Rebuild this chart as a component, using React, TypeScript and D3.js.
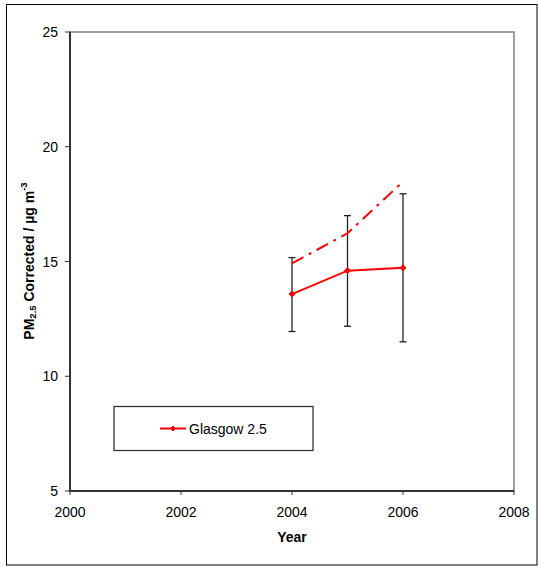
import React from "react";
import * as d3 from "d3";

const years = [2004, 2005, 2006];
const glasgowMean = [13.58, 14.6, 14.73];
const errUpper = [15.17, 17.0, 17.95];
const errLower = [11.95, 12.18, 11.5];
const trendYears = [2004, 2005, 2006];
const trendValues = [14.92, 16.23, 18.48];
const xTicks = [2000, 2002, 2004, 2006, 2008];
const yTicks = [5, 10, 15, 20, 25];
const seriesName = "Glasgow 2.5";

const FONT = "'Liberation Sans', Arial, sans-serif";

export default function App() {
  const W = 539, H = 567;
  const left = 70, right = 514, top = 32, bottom = 491;
  const x = d3.scaleLinear().domain([2000, 2008]).range([left, right]);
  const y = d3.scaleLinear().domain([5, 25]).range([bottom, top]);

  const solid = d3.line<number>().x((_, i) => x(years[i])).y((d) => y(d));
  const dashed = d3.line<number>().x((_, i) => x(trendYears[i])).y((d) => y(d));

  const diamond = (cx: number, cy: number, r = 3) =>
    `M${cx},${cy - r}L${cx + r},${cy}L${cx},${cy + r}L${cx - r},${cy}Z`;

  return (
    <svg width={W} height={H} style={{ position: "absolute", left: 0, top: 0 }} fontFamily={FONT}>
      <rect x={0} y={0} width={W} height={H} fill="#fff" />
      <rect x={6.5} y={4.5} width={530.5} height={560.5} fill="none" stroke="#000" strokeWidth={1} />

      {/* plot frame */}
      <rect x={left} y={top} width={right - left} height={bottom - top} fill="none" stroke="#808080" strokeWidth={1.5} />
      <line x1={left} x2={left} y1={top} y2={bottom} stroke="#333" strokeWidth={2} />
      <line x1={left} x2={right} y1={bottom} y2={bottom} stroke="#333" strokeWidth={2} />

      {/* y ticks */}
      {yTicks.map((t) => (
        <g key={"y" + t}>
          <line x1={left - 5} x2={left} y1={y(t)} y2={y(t)} stroke="#333" strokeWidth={1} />
          <text x={58} y={y(t) + 5} textAnchor="end" fontSize={14} fill="#000">{t}</text>
        </g>
      ))}
      {/* x ticks */}
      {xTicks.map((t) => (
        <g key={"x" + t}>
          <line x1={x(t)} x2={x(t)} y1={bottom} y2={bottom + 4} stroke="#333" strokeWidth={1} />
          <text x={x(t)} y={517} textAnchor="middle" fontSize={14} fill="#000">{t}</text>
        </g>
      ))}

      <text x={(left + right) / 2} y={542} textAnchor="middle" fontSize={14} fontWeight="bold">Year</text>
      <text transform={`translate(34,${(top + bottom) / 2 - 0.5}) rotate(-90)`} textAnchor="middle" fontSize={14} fontWeight="bold">
        PM<tspan fontSize={9.5} dy={2}>2.5</tspan><tspan dy={-2}> Corrected / µg m</tspan>
        <tspan fontSize={9.5} dy={-7}>-3</tspan>
      </text>

      {/* error bars */}
      {years.map((yr, i) => (
        <g key={"e" + yr} stroke="#222" strokeWidth={1.3}>
          <line x1={x(yr)} x2={x(yr)} y1={y(errUpper[i])} y2={y(errLower[i])} />
          <line x1={x(yr) - 3.5} x2={x(yr) + 3.5} y1={y(errUpper[i])} y2={y(errUpper[i])} />
          <line x1={x(yr) - 3.5} x2={x(yr) + 3.5} y1={y(errLower[i])} y2={y(errLower[i])} />
        </g>
      ))}

      {/* trend dash-dot */}
      <path d={dashed(trendValues) || ""} fill="none" stroke="#ff0000" strokeWidth={2} strokeDasharray="13,6,3,6" />

      {/* main series */}
      <path d={solid(glasgowMean) || ""} fill="none" stroke="#ff0000" strokeWidth={2} />
      {years.map((yr, i) => (
        <path key={"m" + yr} d={diamond(x(yr), y(glasgowMean[i]))} fill="#ff0000" stroke="#ff0000" strokeWidth={1} />
      ))}

      {/* legend */}
      <rect x={114} y={406.5} width={199} height={44} fill="#fff" stroke="#333" strokeWidth={1.3} />
      <line x1={160} x2={186} y1={428.5} y2={428.5} stroke="#ff0000" strokeWidth={2} />
      <path d={diamond(173, 428.5, 2.5)} fill="#ff0000" stroke="#ff0000" />
      <text x={189} y={433.5} fontSize={14} fill="#000">{seriesName}</text>
    </svg>
  );
}
